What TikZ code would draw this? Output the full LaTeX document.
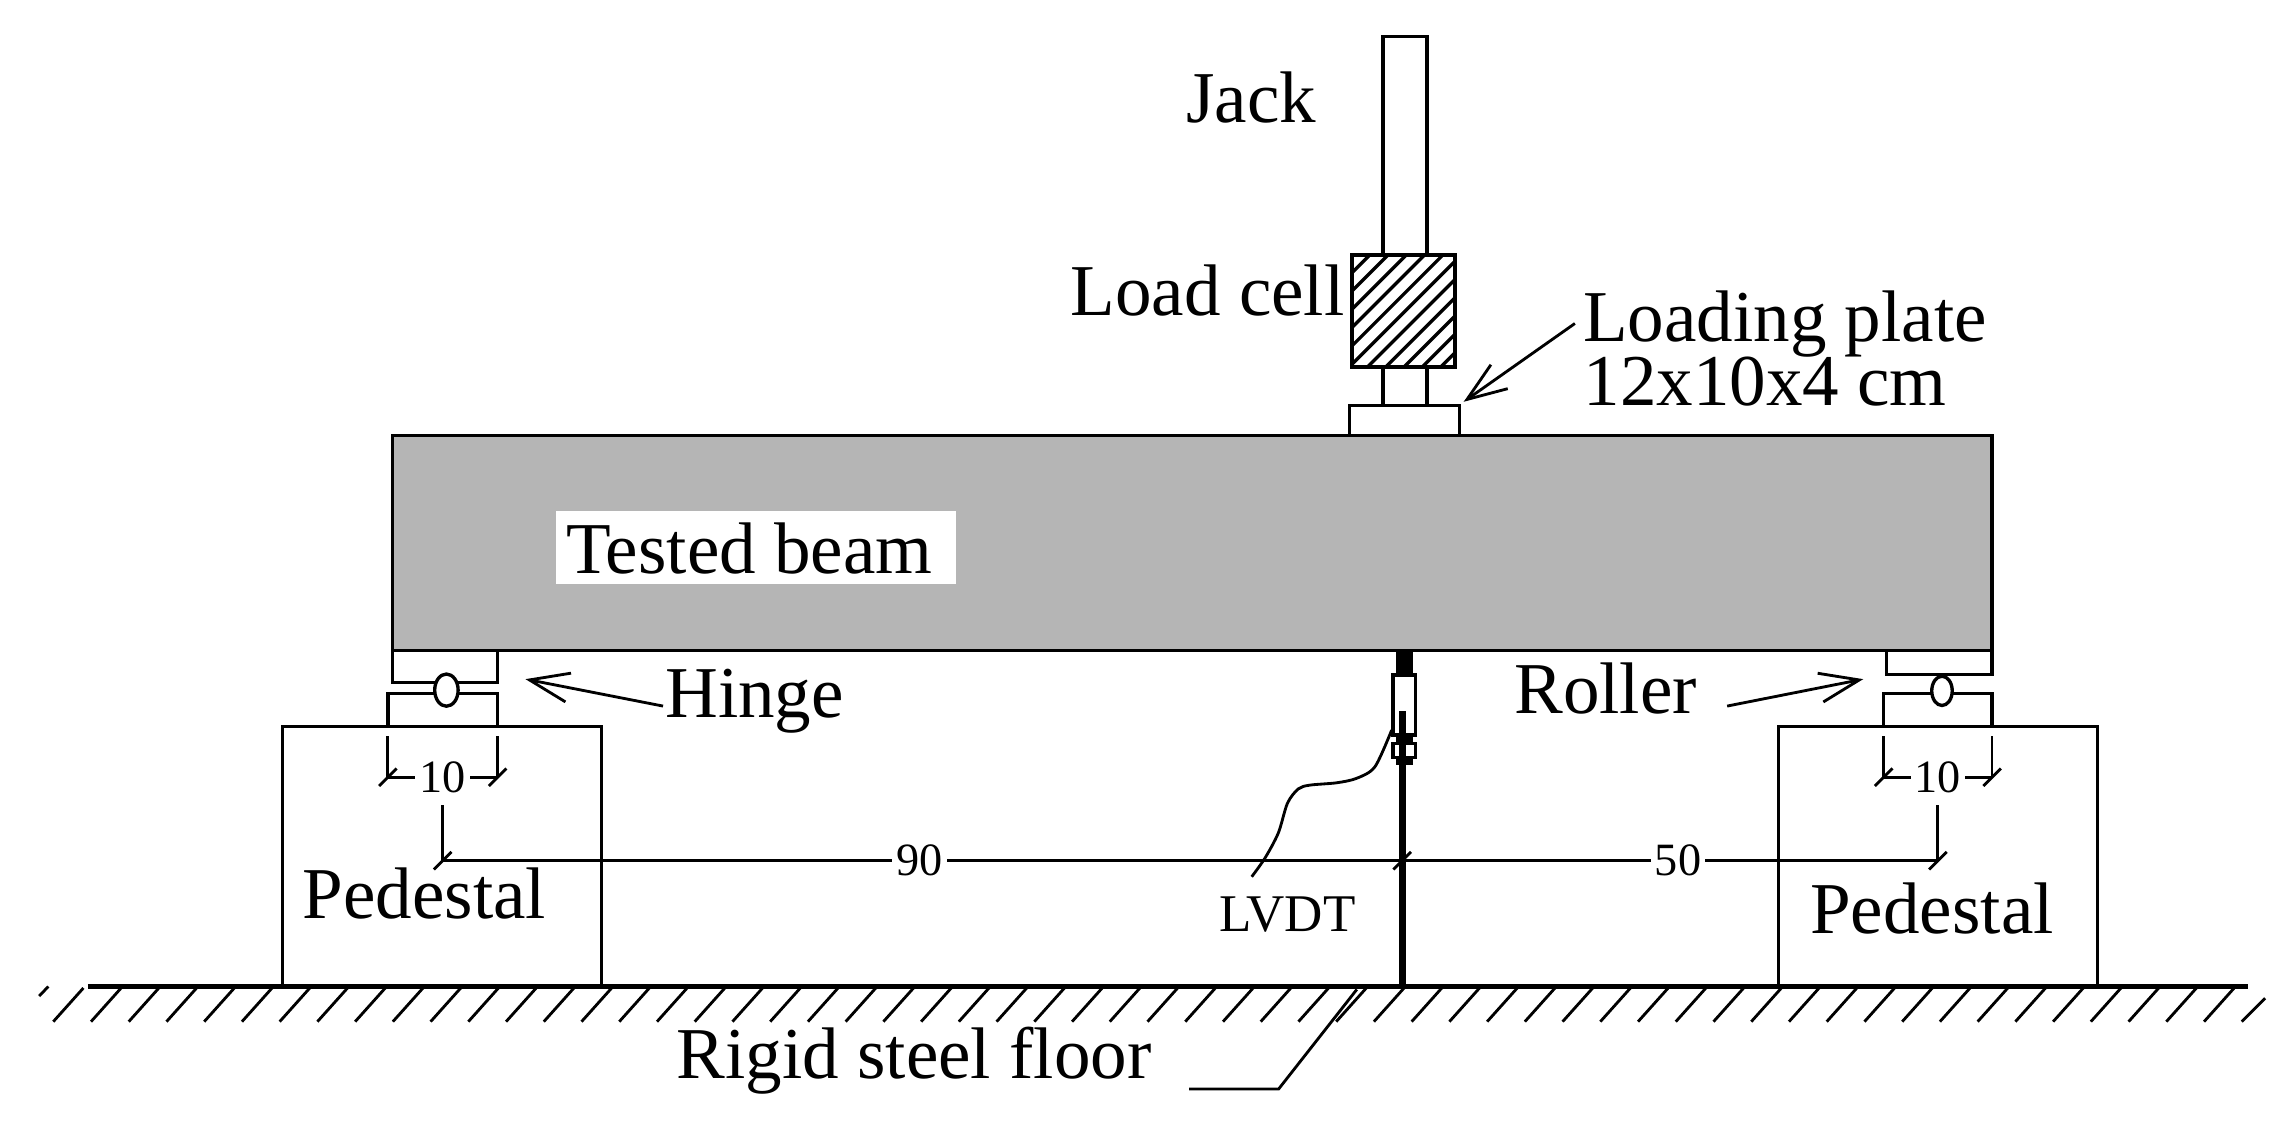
\documentclass[tikz,border=0pt]{standalone}
\usepackage{fontspec}
\setmainfont{Liberation Serif}
\usetikzlibrary{arrows.meta}

\tikzset{
    member/.style={draw=black, line width=0.65pt},
    floor_line/.style={draw=black, line width=0.9pt},
    thin_line/.style={draw=black, line width=0.55pt},
    label/.style={anchor=base, inner sep=0pt, font=\fontsize{14.2}{14}\selectfont},
    small_label/.style={anchor=base, inner sep=0pt, font=\fontsize{10.3}{10}\selectfont},
    dim_label/.style={fill=white, inner xsep=0.8pt, inner ysep=0pt, font=\fontsize{9}{9}\selectfont},
    leader/.style={thin_line, -{Straight Barb[length=0.27cm, width=0.2cm, line width=0.55pt]}}
}

\begin{document}
\begin{tikzpicture}
    \useasboundingbox (0,0) rectangle (15.68,-7.693);

    % Beam with its white label patch
    \filldraw[member, fill=black!29] (2.68,-2.975) rectangle (13.61,-4.445);
    \fill[white] (3.80,-3.49) rectangle (6.53,-3.99);
    \node[label] (beam) at (5.12,-3.915) {Tested beam};

    % Jack, load cell and loading plate
    \draw[member] (9.45,-1.74) -- (9.45,-0.25) -- (9.75,-0.25) -- (9.75,-1.74);
    \begin{scope}
        \clip (9.24,-1.74) rectangle (9.94,-2.51);
        \foreach \k in {0,...,12}
            \draw[member] (8.50+0.125*\k,-2.60) -- +(1.0,1.0);
    \end{scope}
    \draw[member, line width=0.8pt] (9.24,-1.74) rectangle (9.94,-2.51);
    \draw[member] (9.45,-2.51) -- (9.45,-2.77);
    \draw[member] (9.75,-2.51) -- (9.75,-2.77);
    \draw[member] (9.22,-2.975) rectangle (9.97,-2.77);

    \node[label] (jack) at (8.55,-0.835) {Jack};
    \node[label] (cell) at (8.25,-2.155) {Load cell};
    \node[label] (plate) at (12.195,-2.33) {Loading plate};
    \node[label] (plate_size) at (12.06,-2.772) {12x10x4 cm};
    \coordinate (plate_from) at (10.76,-2.21);
    \coordinate (plate_tip) at (10.00,-2.745);
    \draw[leader] (plate_from) -- (plate_tip);

    % Pedestals
    \draw[member] (1.93,-6.74) rectangle (4.11,-4.965);
    \draw[member] (12.15,-6.74) rectangle (14.33,-4.965);
    \node[label] (ped_left) at (2.90,-6.275) {Pedestal};
    \node[label] (ped_right) at (13.20,-6.375) {Pedestal};

    % Hinge
    \draw[member] (2.68,-4.445) -- (2.68,-4.665) -- (3.40,-4.665) -- (3.40,-4.445);
    \draw[member] (2.65,-4.965) -- (2.65,-4.74) -- (3.40,-4.74) -- (3.40,-4.965);
    \filldraw[member, fill=white] (3.05,-4.715) ellipse [x radius=0.08, y radius=0.11];
    \node[label] (hinge) at (5.155,-4.905) {Hinge};
    \coordinate (hinge_from) at (4.53,-4.824);
    \coordinate (hinge_tip) at (3.59,-4.64);
    \draw[leader] (hinge_from) -- (hinge_tip);

    % Roller
    \draw[member] (12.89,-4.445) -- (12.89,-4.61) -- (13.61,-4.61) -- (13.61,-4.445);
    \draw[member] (12.87,-4.965) -- (12.87,-4.74) -- (13.61,-4.74) -- (13.61,-4.965);
    \filldraw[member, fill=white] (13.268,-4.72) ellipse [x radius=0.07, y radius=0.10];
    \node[label] (roller) at (10.97,-4.875) {Roller};
    \coordinate (roller_from) at (11.80,-4.824);
    \coordinate (roller_tip) at (12.73,-4.64);
    \draw[leader] (roller_from) -- (roller_tip);

    % Dimension points
    \coordinate (left_a) at (2.65,-5.31);
    \coordinate (left_b) at (3.40,-5.31);
    \coordinate (right_a) at (12.87,-5.31);
    \coordinate (right_b) at (13.61,-5.31);
    \coordinate (span_a) at (3.024,-5.88);
    \coordinate (span_m) at (9.58,-5.88);
    \coordinate (span_b) at (13.24,-5.88);

    % Dimension lines
    \draw[thin_line] (2.65,-5.03) -- (left_a);
    \draw[thin_line] (3.40,-5.03) -- (left_b);
    \draw[thin_line] (left_a) -- node[dim_label] (ten_left) {10} (left_b);
    \draw[thin_line] (12.87,-5.03) -- (right_a);
    \draw[thin_line] (13.61,-5.03) -- (right_b);
    \draw[thin_line] (right_a) -- node[dim_label] (ten_right) {10} (right_b);
    \draw[thin_line] (3.024,-5.50) -- (span_a);
    \draw[thin_line] (13.24,-5.50) -- (span_b);
    \draw[thin_line] (span_a) -- node[dim_label, pos=0.497] (ninety) {90} (span_m);
    \draw[thin_line] (span_m) -- node[dim_label, pos=0.515] (fifty) {50} (span_b);

    % LVDT
    \fill[black] (9.536,-4.44) rectangle (9.652,-4.612);
    \draw[member] (9.516,-4.612) rectangle (9.673,-5.022);
    \fill[black] (9.535,-5.02) rectangle (9.655,-5.227);
    \filldraw[member, fill=white] (9.516,-5.078) rectangle (9.673,-5.174);
    \fill[black] (9.56,-4.856) rectangle (9.604,-6.74);
    \coordinate (wire_top) at (9.508,-4.988);
    \coordinate (wire_end) at (8.552,-5.99);
    \draw[thin_line] plot[smooth] coordinates {(wire_top) (9.394,-5.238) (9.27,-5.317) (9.133,-5.348)
        (8.95,-5.364) (8.87,-5.39) (8.796,-5.488) (8.734,-5.69) (8.644,-5.86) (wire_end)};
    \node[small_label] (lvdt) at (8.795,-6.366) {LVDT};

    % Ticks on the dimension lines
    \foreach \p in {left_a,left_b,right_a,right_b,span_a,span_m,span_b}
        \draw[thin_line] ([shift={(-0.06,-0.06)}]\p) -- ([shift={(0.06,0.06)}]\p);

    % Floor
    \draw[floor_line] (0.60,-6.74) -- (15.36,-6.74);
    \foreach \k in {0,...,57}
        \draw[thin_line] (0.57+0.2578*\k,-6.75) -- +(-0.206,-0.23);
    \draw[thin_line] (0.33,-6.74) -- (0.268,-6.805);
    \draw[thin_line] (15.476,-6.82) -- (15.316,-6.98);
    \node[label] (floor) at (6.245,-7.37) {Rigid steel floor};
    \coordinate (floor_a) at (9.27,-6.76);
    \coordinate (floor_b) at (8.736,-7.44);
    \coordinate (floor_c) at (8.125,-7.44);
    \draw[thin_line] (floor_a) -- (floor_b) -- (floor_c);

\end{tikzpicture}
\end{document}
